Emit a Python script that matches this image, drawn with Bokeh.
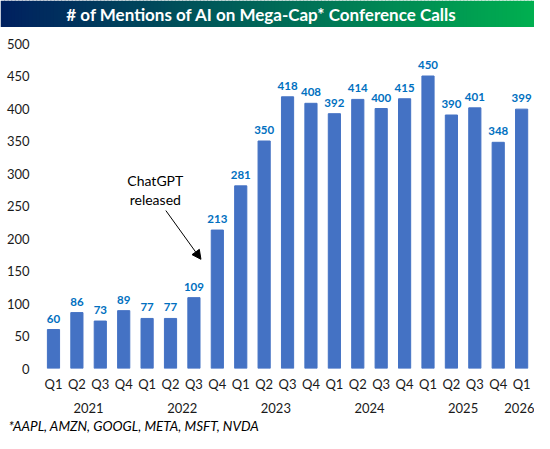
import numpy as np
from bokeh.plotting import figure
from bokeh.models import Range1d, FixedTicker, LinearAxis, Title, Arrow, NormalHead, Label
from bokeh.layouts import column
from bokeh.embed import file_html
from bokeh.resources import INLINE
from bokeh.core.properties import value

# ---- data ----
quarters = ["Q1", "Q2", "Q3", "Q4", "Q1", "Q2", "Q3", "Q4", "Q1", "Q2", "Q3",
            "Q4", "Q1", "Q2", "Q3", "Q4", "Q1", "Q2", "Q3", "Q4", "Q1"]
bar_years = ["2021"] * 4 + ["2022"] * 4 + ["2023"] * 4 + ["2024"] * 4 + ["2025"] * 4 + ["2026"]
years = ["2021", "2022", "2023", "2024", "2025", "2026"]
mentions = [60, 86, 73, 89, 77, 77, 109, 213, 281, 350, 418, 408,
            392, 414, 400, 415, 450, 390, 401, 348, 399]
y_ticks = [0, 50, 100, 150, 200, 250, 300, 350, 400, 450, 500]
title_text = "# of Mentions of AI on Mega-Cap* Conference Calls"
footnote = "*AAPL, AMZN, GOOGL, META, MSFT, NVDA"
note_lines = ["ChatGPT", "released"]

FONT = "Lato"
W = 534
BANNER_H = 27

# ---- banner ----
banner = figure(width=W, height=BANNER_H, x_range=Range1d(0, 1), y_range=Range1d(0, 1),
                x_axis_type=None, y_axis_type=None, frame_align=False,
                output_backend="svg", toolbar_location=None,
                min_border=0, min_border_left=0, min_border_right=0,
                min_border_top=0, min_border_bottom=0)
banner.grid.visible = False
banner.outline_line_color = None
N = 150
c0 = np.array([0x00, 0x20, 0x60])
c1 = np.array([0x00, 0xB0, 0x50])
lefts = np.arange(N) / N
cols = []
for t in (lefts + 0.5 / N):
    c = (c0 + (c1 - c0) * t).astype(int)
    cols.append("#%02x%02x%02x" % tuple(c))
banner.quad(left=lefts, right=lefts + 1.0 / N + 0.002, bottom=0, top=1,
            fill_color=cols, line_color=None)
banner.text(x=[0.489], y=[0.5], text=[title_text], text_align="center",
            text_baseline="middle", text_color="white", text_font=value(FONT),
            text_font_style="bold", text_font_size="17px")

# ---- main chart ----
idx = list(range(len(mentions)))
p = figure(width=W, height=433 - BANNER_H, x_range=Range1d(-0.64, 20.55), y_range=Range1d(0, 500),
           output_backend="svg", toolbar_location=None, frame_align=False,
           min_border_left=38, min_border_right=0, min_border_top=16, min_border_bottom=60)
p.grid.visible = False
p.outline_line_color = None

p.vbar(x=idx, top=mentions, width=0.52, color="#4472C4")
p.text(x=idx, y=mentions, text=[str(v) for v in mentions], y_offset=-7,
       text_align="center", text_baseline="bottom", text_color="#0070C0",
       text_font=value(FONT), text_font_style="bold", text_font_size="11.5px")


def style_axis(ax, standoff):
    ax.axis_line_color = None
    ax.major_tick_line_color = None
    ax.minor_tick_line_color = None
    ax.major_tick_out = 0
    ax.major_tick_in = 0
    ax.minor_tick_out = 0
    ax.minor_tick_in = 0
    ax.major_label_text_font = FONT
    ax.major_label_text_font_size = "13px"
    ax.major_label_text_color = "#1a1a1a"
    ax.major_label_standoff = standoff


# y axis
p.yaxis.ticker = FixedTicker(ticks=y_ticks)
style_axis(p.yaxis[0], 9)

# quarter axis
p.xaxis.ticker = FixedTicker(ticks=idx)
p.xaxis.major_label_overrides = {i: q for i, q in zip(idx, quarters)}
style_axis(p.xaxis[0], 7)

# year axis
year_centers = [float(np.mean([i for i, y in zip(idx, bar_years) if y == yr])) for yr in years]
yax = LinearAxis(ticker=FixedTicker(ticks=year_centers),
                 major_label_overrides={c: yr for c, yr in zip(year_centers, years)})
style_axis(yax, 8)
p.add_layout(yax, "below")

# footnote
p.add_layout(Title(text=footnote, align="left", text_font=FONT, text_font_style="italic",
                   text_font_size="13.5px", text_color="#000000", offset=-30,
                   standoff=0), "below")

# annotation
p.add_layout(Label(x=4.35, y=290, text=note_lines[0], text_align="center",
                   text_baseline="middle", text_font=FONT, text_font_size="14px",
                   text_color="#000000"))
p.add_layout(Label(x=4.35, y=260, text=note_lines[1], text_align="center",
                   text_baseline="middle", text_font=FONT, text_font_size="14px",
                   text_color="#000000"))
p.add_layout(Arrow(end=NormalHead(size=9, fill_color="black", line_color="black"),
                   x_start=4.8, y_start=243, x_end=6.3, y_end=168,
                   line_color="black", line_width=1))

layout = column(banner, p, spacing=0)
open("out.html", "w").write(file_html(layout, INLINE))
